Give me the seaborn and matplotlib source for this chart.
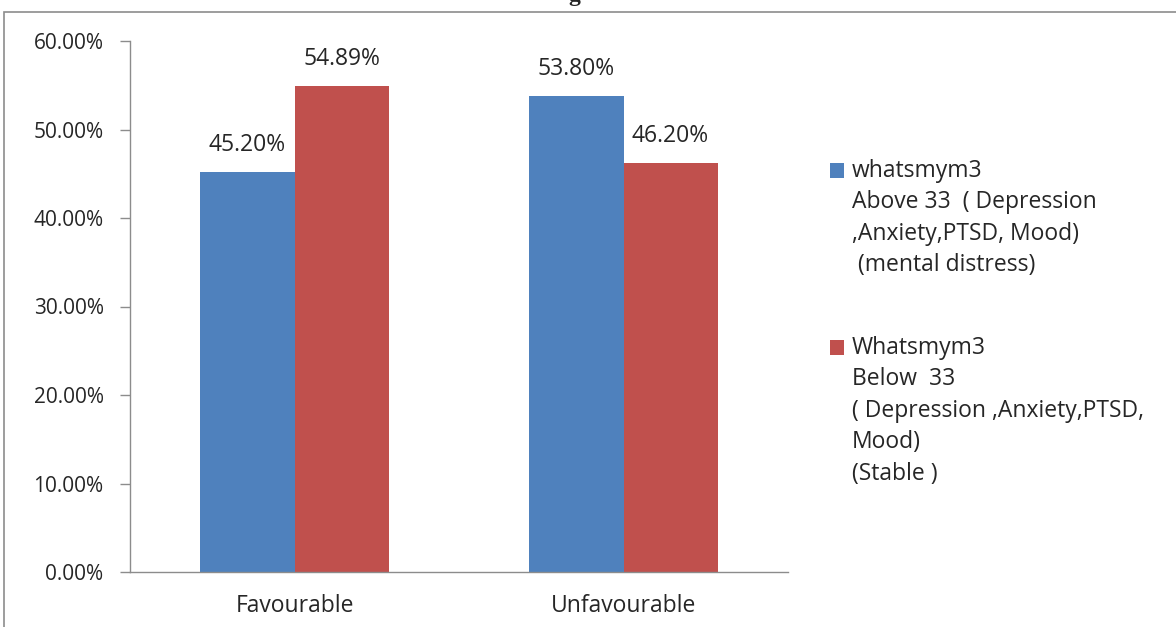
import pandas as pd
import seaborn as sns
import matplotlib.pyplot as plt
from matplotlib.patches import Rectangle

# datos
categories = ["Favourable", "Unfavourable"]
series_names = [
    "whatsmym3\nAbove 33  ( Depression\n,Anxiety,PTSD, Mood)\n (mental distress)",
    "Whatsmym3\nBelow  33\n( Depression ,Anxiety,PTSD,\nMood)\n(Stable )",
]
above_33 = [45.20, 53.80]
below_33 = [54.89, 46.20]
colors = ["#4F81BD", "#C0504D"]

df = pd.DataFrame({
    "category": categories * 2,
    "series": [series_names[0]] * 2 + [series_names[1]] * 2,
    "value": [v / 100 for v in above_33 + below_33],
})

sns.set_style("white")
plt.rcParams["font.family"] = ["Open Sans", "DejaVu Sans"]

fig = plt.figure(figsize=(11.76, 6.27), dpi=100)
ax = fig.add_axes([130 / 1176, 1 - 572 / 627, 658 / 1176, 531 / 627])

sns.barplot(data=df, x="category", y="value", hue="series", order=categories,
            hue_order=series_names, palette=colors, width=0.572, saturation=1,
            edgecolor="none", linewidth=0, legend=False, ax=ax)

for cont in ax.containers:
    ax.bar_label(cont, labels=[f"{b.get_height() * 100:.2f}%" for b in cont],
                 padding=11, fontsize=16.5)

ax.set_xlim(-0.5, 1.5)
ax.set_ylim(0, 0.6)
ax.set_yticks([0, 0.1, 0.2, 0.3, 0.4, 0.5, 0.6])
ax.set_yticklabels([f"{t * 100:.2f}%" for t in ax.get_yticks()], fontsize=15)
ax.set_xticks([-0.5, 0.5, 1.5], minor=True)
ax.tick_params(axis="x", which="major", length=0, pad=16, labelsize=16.5)
ax.tick_params(axis="x", which="minor", length=7, width=1, color="#8c8c8c", direction="out")
ax.tick_params(axis="y", length=7, width=1, color="#8c8c8c", direction="out", pad=12, left=True)
ax.set_xlabel("")
ax.set_ylabel("")
for s in ["top", "right"]:
    ax.spines[s].set_visible(False)
for s in ["left", "bottom"]:
    ax.spines[s].set_color("#8c8c8c")
    ax.spines[s].set_linewidth(1)

# leyenda manual
legend_y = [1 - 178 / 627, 1 - 355 / 627]
for name, col, ly in zip(series_names, colors, legend_y):
    fig.patches.append(Rectangle((830 / 1176, ly), 14 / 1176, 15 / 627,
                                 transform=fig.transFigure, facecolor=col, edgecolor="none"))
    fig.text(852 / 1176, ly + 19 / 627, name, fontsize=16.5, va="top", ha="left",
             linespacing=1.41)

# marco exterior y título recortado
fig.patches.append(Rectangle((3.5 / 1176, -0.1), 1.2, 1 - 11.5 / 627 + 0.1,
                             transform=fig.transFigure, facecolor="none",
                             edgecolor="#8c8c8c", linewidth=1.2))
fig.text(574 / 1176, 1.0 - 1 / 627, "g", fontsize=17, fontweight="bold",
         family="Liberation Serif", ha="center", va="baseline")

fig.savefig("out.png", dpi=100)
